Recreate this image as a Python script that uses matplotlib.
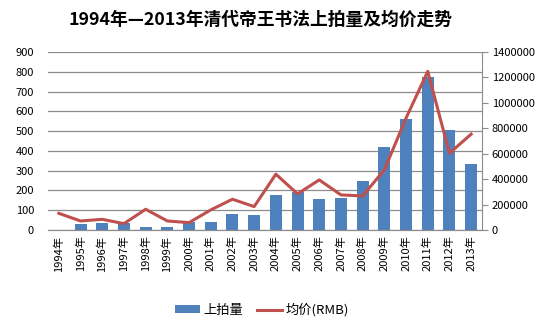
import numpy as np
import matplotlib
matplotlib.use("Agg")
import matplotlib.pyplot as plt

plt.rcParams['font.family'] = ['Noto Sans CJK SC', 'DejaVu Sans']

years = [f"{y}年" for y in range(1994, 2014)]
lots = [0, 30, 37, 37, 15, 15, 42, 42, 83, 78, 177, 191, 157, 164, 248, 419, 562, 772, 507, 334]
avg_price = [131000, 71000, 84000, 50000, 163000, 71000, 58000, 158000, 242000, 184000,
             439000, 284000, 394000, 276000, 268000, 473000, 880000, 1248000, 604000, 754000]

bar_color = "#4F81BD"
line_color = "#C0504D"


def main():
    fig = plt.figure(figsize=(5.57, 3.32), dpi=100)
    ax = fig.add_axes([48 / 557, 1 - 230 / 332, 434 / 557, 178 / 332])
    ax2 = ax.twinx()

    x = np.arange(len(years))
    b = ax.bar(x, lots, width=0.55, color=bar_color, zorder=2, label="上拍量")
    ax.set_ylim(0, 900)
    ax.set_yticks(range(0, 901, 100))
    ax.set_xlim(-0.5, len(years) - 0.5)
    ax.grid(axis='y', color="#8c8c8c", linewidth=0.9, zorder=0)
    ax.set_axisbelow(True)
    ax.set_xticks(x)
    ax.set_xticklabels(years, rotation=90, fontsize=8)
    ax.tick_params(axis='x', length=0, pad=4)
    ax.tick_params(axis='y', length=0, labelsize=8, pad=10)

    l, = ax2.plot(x, avg_price, color=line_color, linewidth=2.2, label="均价(RMB)")
    ax2.set_ylim(0, 1400000)
    ax2.set_yticks(range(0, 1400001, 200000))
    ax2.tick_params(axis='y', labelsize=8, length=4, color="#8c8c8c", pad=3)
    ax2.ticklabel_format(axis='y', style='plain', useOffset=False)

    for a in (ax, ax2):
        a.spines['top'].set_visible(False)
        a.spines['left'].set_visible(False)
        a.spines['right'].set_visible(False)
        a.spines['bottom'].set_color("#8c8c8c")
    ax2.spines['right'].set_visible(True)
    ax2.spines['right'].set_color("#8c8c8c")

    fig.text(261 / 557, 1 - 20 / 332, "1994年—2013年清代帝王书法上拍量及均价走势",
             ha='center', va='center', fontsize=12.8, fontweight='bold')

    fig.legend([b, l], ["上拍量", "均价(RMB)"], loc='center',
               bbox_to_anchor=(262 / 557, 1 - 310 / 332), ncol=2, frameon=False,
               fontsize=9.5, handlelength=1.9, handleheight=0.5,
               handletextpad=0.3, columnspacing=1.0)

    fig.savefig("out.png", dpi=100)


if __name__ == '__main__':
    main()
